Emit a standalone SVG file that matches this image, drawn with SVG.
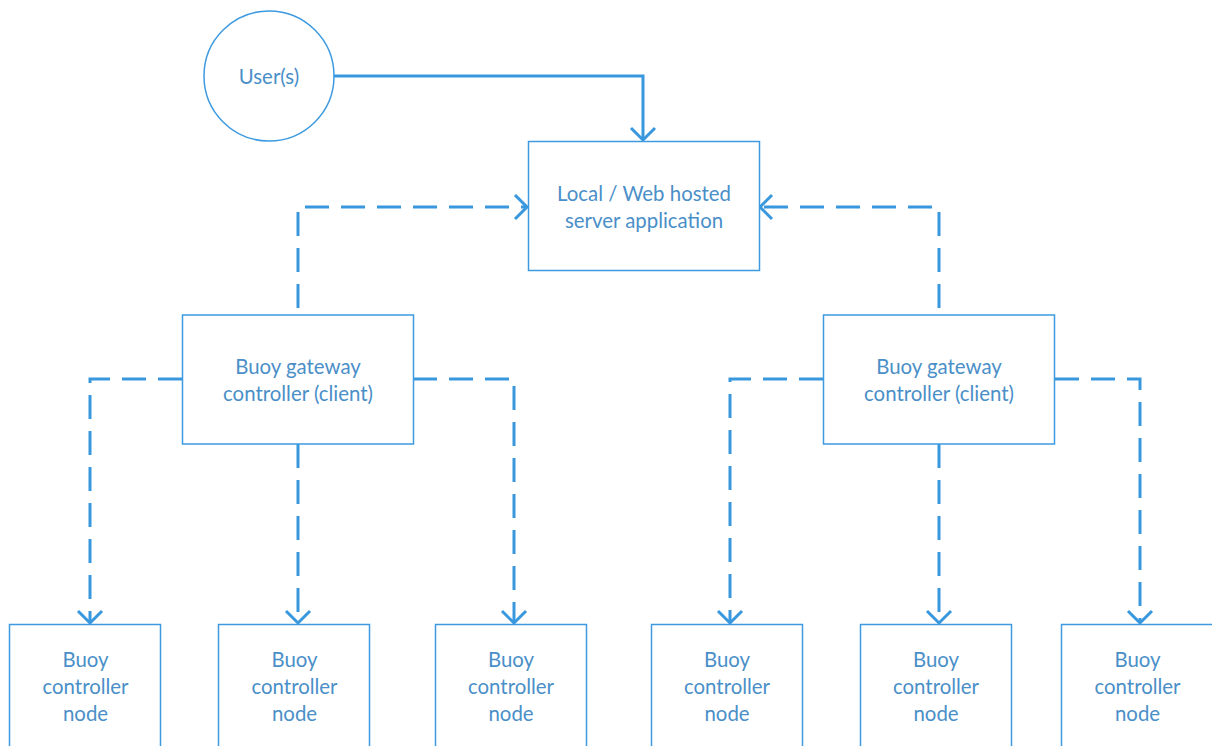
<svg xmlns="http://www.w3.org/2000/svg" width="1212" height="746" viewBox="0 0 1212 746">
  <style>
    .box { fill: #ffffff; stroke: #3d9ae0; stroke-width: 1.5; }
    .lbl { font-family: Lato, "Open Sans", "Liberation Sans", sans-serif; font-size: 20.4px; fill: #4a8fc8; text-anchor: middle; }
    .link { fill: none; stroke: #3897dd; stroke-width: 3; }
    .dash { stroke-dasharray: 24 12; }
  </style>
  <defs>
    <marker id="chev" markerUnits="userSpaceOnUse" viewBox="-14 -14 28 28" markerWidth="28" markerHeight="28" refX="0" refY="0" orient="auto">
      <path d="M-12,-12 L0,0 L-12,12" fill="none" stroke="#3897dd" stroke-width="3"/>
    </marker>
  </defs>

  <!-- connectors -->
  <g id="connectors">
    <path class="link" d="M334,76 H643 V140" marker-end="url(#chev)"/>
    <path class="link dash" d="M298,308 V207 H527" marker-end="url(#chev)"/>
    <path class="link dash" d="M939,308 V207 H760" marker-end="url(#chev)"/>
    <path class="link dash" d="M182,379 H90 V623" marker-end="url(#chev)"/>
    <path class="link dash" d="M298,444 V623" marker-end="url(#chev)"/>
    <path class="link dash" d="M413,379 H514 V623" marker-end="url(#chev)"/>
    <path class="link dash" d="M823,379 H730 V623" marker-end="url(#chev)"/>
    <path class="link dash" d="M939,444 V623" marker-end="url(#chev)"/>
    <path class="link dash" d="M1055,379 H1140 V623" marker-end="url(#chev)"/>
  </g>

  <g id="users">
    <circle class="box" cx="269" cy="76" r="65"/>
    <text class="lbl" x="269" y="84">User(s)</text>
  </g>

  <g id="server">
    <rect class="box" x="528.5" y="141.5" width="231" height="129"/>
    <text class="lbl" x="644" y="201">Local / Web hosted</text>
    <text class="lbl" x="644" y="228">server application</text>
  </g>

  <g id="gateway-left">
    <rect class="box" x="182.5" y="315" width="231" height="129"/>
    <text class="lbl" x="298" y="374">Buoy gateway</text>
    <text class="lbl" x="298" y="401">controller (client)</text>
  </g>

  <g id="gateway-right">
    <rect class="box" x="823.5" y="315" width="231" height="129"/>
    <text class="lbl" x="939" y="374">Buoy gateway</text>
    <text class="lbl" x="939" y="401">controller (client)</text>
  </g>

  <g id="node-1">
    <rect class="box" x="9.5" y="624.5" width="151" height="130"/>
    <text class="lbl" x="85.5" y="667">Buoy</text>
    <text class="lbl" x="85.5" y="694">controller</text>
    <text class="lbl" x="85.5" y="721">node</text>
  </g>
  <g id="node-2">
    <rect class="box" x="218.5" y="624.5" width="151" height="130"/>
    <text class="lbl" x="294.5" y="667">Buoy</text>
    <text class="lbl" x="294.5" y="694">controller</text>
    <text class="lbl" x="294.5" y="721">node</text>
  </g>
  <g id="node-3">
    <rect class="box" x="435.5" y="624.5" width="151" height="130"/>
    <text class="lbl" x="511" y="667">Buoy</text>
    <text class="lbl" x="511" y="694">controller</text>
    <text class="lbl" x="511" y="721">node</text>
  </g>
  <g id="node-4">
    <rect class="box" x="651.5" y="624.5" width="151" height="130"/>
    <text class="lbl" x="727" y="667">Buoy</text>
    <text class="lbl" x="727" y="694">controller</text>
    <text class="lbl" x="727" y="721">node</text>
  </g>
  <g id="node-5">
    <rect class="box" x="860.5" y="624.5" width="151" height="130"/>
    <text class="lbl" x="936" y="667">Buoy</text>
    <text class="lbl" x="936" y="694">controller</text>
    <text class="lbl" x="936" y="721">node</text>
  </g>
  <g id="node-6">
    <rect class="box" x="1061.5" y="624.5" width="160" height="130"/>
    <text class="lbl" x="1137.5" y="667">Buoy</text>
    <text class="lbl" x="1137.5" y="694">controller</text>
    <text class="lbl" x="1137.5" y="721">node</text>
  </g>
</svg>
